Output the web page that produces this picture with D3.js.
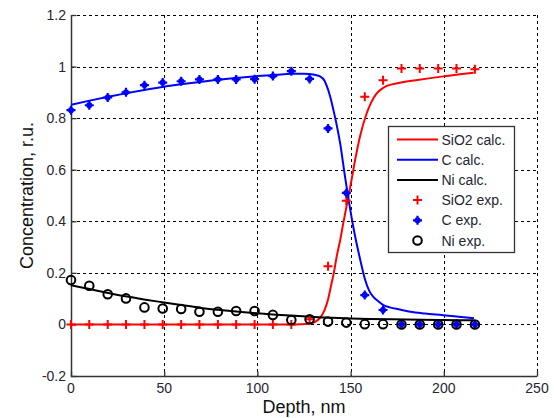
<!DOCTYPE html>
<html>
<head>
<meta charset="utf-8">
<script src="https://cdn.jsdelivr.net/npm/d3@7"></script>
<style>
  html, body { margin: 0; padding: 0; background: #fff; }
  svg { display: block; font-family: "Liberation Sans", Arial, sans-serif; }
</style>
</head>
<body>
<svg id="chart" width="554" height="418"></svg>
<script>
// Measured depths (nm)
const depthExp = [0, 9.8, 19.7, 29.5, 39.4, 49.2, 59.1, 68.9, 78.8, 88.6, 98.5, 108.3,
                  118.2, 128, 137.9, 147.7, 157.6, 167.4, 177.3, 187.1, 197, 206.8, 216.7];
// Experimental concentrations
const sio2Exp = [0, 0, 0, 0, 0, 0, 0, 0, 0, 0, 0, 0, 0, 0.02, 0.226, 0.48, 0.883, 0.947,
                 0.993, 0.993, 0.993, 0.993, 0.99];
const cExp = [0.831, 0.850, 0.880, 0.900, 0.928, 0.938, 0.943, 0.950, 0.950, 0.950, 0.951,
              0.963, 0.982, 0.952, 0.760, 0.510, 0.114, 0.056, 0, 0, 0, 0, 0];
const niExp = [0.172, 0.150, 0.117, 0.101, 0.066, 0.062, 0.060, 0.049, 0.049, 0.052, 0.052,
               0.037, 0.017, 0.020, 0.011, 0.007, 0.001, 0.001, 0, 0, 0, 0, 0];

// Calculated profiles
const sio2CalcDepth = [0, 120, 128, 131, 133.6, 136, 138, 139.5, 141, 142.5, 144.5, 146, 148.8,
                       150.5, 152.4, 155, 158.6, 161, 164, 167, 169.4, 176.5, 185, 199.7, 216];
const sio2Calc = [0, 0, 0.003, 0.01, 0.025, 0.055, 0.1, 0.15, 0.2, 0.262, 0.33, 0.39, 0.495,
                  0.56, 0.637, 0.728, 0.818, 0.86, 0.896, 0.915, 0.925, 0.937, 0.947, 0.962, 0.976];

const cCalcDepth = [0, 10, 20, 30, 40, 50, 60, 70, 80, 90, 100, 110, 118, 125, 130, 133.6, 136,
                    137.2, 139, 140.8, 142.5, 144.4, 147, 148.8, 151.4, 155, 157.7, 160, 162.2,
                    164, 167.6, 171.1, 176.5, 182, 190, 199.7, 208, 216.2];
const cCalc = [0.852, 0.868, 0.883, 0.897, 0.910, 0.922, 0.932, 0.941, 0.950, 0.957, 0.963,
               0.968, 0.972, 0.972, 0.969, 0.962, 0.945, 0.925, 0.885, 0.831, 0.775, 0.702,
               0.573, 0.49, 0.38, 0.256, 0.175, 0.13, 0.107, 0.095, 0.075, 0.066, 0.058, 0.049,
               0.042, 0.036, 0.030, 0.024];

const niCalcDepth = [0, 10, 20, 30, 40, 50, 60, 70, 80, 90, 100, 110, 120, 130, 140, 150, 160,
                     180, 200, 216];
const niCalc = [0.152, 0.137, 0.122, 0.108, 0.096, 0.085, 0.074, 0.064, 0.056, 0.049, 0.043,
                0.038, 0.034, 0.029, 0.026, 0.023, 0.021, 0.019, 0.017, 0.016];

const xTicks = [0, 50, 100, 150, 200, 250];
const yTicks = [-0.2, 0, 0.2, 0.4, 0.6, 0.8, 1, 1.2];

const legendItems = [
  { label: "SiO2 calc.", kind: "line", color: "#ff0000" },
  { label: "C calc.", kind: "line", color: "#0000ff" },
  { label: "Ni calc.", kind: "line", color: "#000000" },
  { label: "SiO2 exp.", kind: "plus", color: "#ff0000" },
  { label: "C exp.", kind: "star", color: "#0000ff" },
  { label: "Ni exp.", kind: "circle", color: "#000000" }
];

const svg = d3.select("#chart");
const plotLeft = 71, plotRight = 537, plotTop = 15, plotBottom = 376;

const x = d3.scaleLinear().domain([0, 250]).range([plotLeft, plotRight]);
const y = d3.scaleLinear().domain([-0.2, 1.2]).range([plotBottom, plotTop]);

// Dotted grid
const grid = svg.append("g").attr("stroke", "#000").attr("stroke-width", 1)
  .attr("stroke-dasharray", "3,3").attr("shape-rendering", "crispEdges");
grid.selectAll("line.gx").data(xTicks.filter(d => d > 0)).join("line")
  .attr("class", "gx")
  .attr("x1", d => Math.round(x(d)) + 0.5).attr("x2", d => Math.round(x(d)) + 0.5)
  .attr("y1", plotTop).attr("y2", plotBottom);
grid.selectAll("line.gy").data(yTicks.filter(d => d > -0.2)).join("line")
  .attr("class", "gy")
  .attr("x1", plotLeft).attr("x2", plotRight)
  .attr("y1", d => Math.round(y(d)) + 0.5).attr("y2", d => Math.round(y(d)) + 0.5);

// Axes (ticks pointing inward)
const fmt = d => (d === 0 ? "0" : String(+d.toFixed(1)));
const xAxis = svg.append("g").attr("transform", `translate(0,${Math.round(y(-0.2)) + 0.5})`)
  .call(d3.axisTop(x).tickValues(xTicks).tickSize(5).tickFormat(""));
const yAxis = svg.append("g").attr("transform", `translate(${Math.round(x(0)) + 0.5},0)`)
  .call(d3.axisRight(y).tickValues(yTicks).tickSize(5).tickFormat(""));
[xAxis, yAxis].forEach(g => {
  g.selectAll("line").attr("stroke", "#333").attr("stroke-width", 1.3);
  g.select(".domain").remove();
});
svg.append("path")
  .attr("d", `M${plotLeft + 0.5},${plotTop}V${plotBottom + 0.5}H${plotRight}`)
  .attr("fill", "none").attr("stroke", "#333").attr("stroke-width", 1.5);

// Tick labels
svg.append("g").selectAll("text").data(xTicks).join("text")
  .attr("x", d => x(d)).attr("y", 393)
  .attr("text-anchor", "middle").attr("font-size", 14).attr("fill", "#262633")
  .text(fmt);
svg.append("g").selectAll("text").data(yTicks).join("text")
  .attr("x", 66).attr("y", d => y(d) + 5)
  .attr("text-anchor", "end").attr("font-size", 14).attr("fill", "#262633")
  .text(fmt);

// Axis titles
svg.append("text").attr("x", (plotLeft + plotRight) / 2).attr("y", 413)
  .attr("text-anchor", "middle").attr("font-size", 18).attr("fill", "#111")
  .text("Depth, nm");
svg.append("text")
  .attr("transform", `translate(33,${(plotTop + plotBottom) / 2}) rotate(-90)`)
  .attr("text-anchor", "middle").attr("font-size", 18).attr("fill", "#111")
  .text("Concentration, r.u.");

// Calculated curves
const line = d3.line().x(d => x(d[0])).y(d => y(d[1])).curve(d3.curveMonotoneX);
const zip = (a, b) => a.map((v, i) => [v, b[i]]);
const plot = svg.append("g");
plot.append("path").datum(zip(sio2CalcDepth, sio2Calc)).attr("d", line)
  .attr("fill", "none").attr("stroke", "#ff0000").attr("stroke-width", 2);
plot.append("path").datum(zip(cCalcDepth, cCalc)).attr("d", line)
  .attr("fill", "none").attr("stroke", "#0000ff").attr("stroke-width", 2);
plot.append("path").datum(zip(niCalcDepth, niCalc)).attr("d", line)
  .attr("fill", "none").attr("stroke", "#000000").attr("stroke-width", 2);

// Marker shapes
const plusPath = s => `M${-s},0H${s}M0,${-s}V${s}`;
const starPath = (s, t) => `M${-s},0H${s}M0,${-s}V${s}M${-t},${-t}L${t},${t}M${-t},${t}L${t},${-t}`;

function drawPlus(g, cx, cy, color) {
  g.append("path").attr("transform", `translate(${cx},${cy})`).attr("d", plusPath(4.5))
    .attr("stroke", color).attr("stroke-width", 2).attr("fill", "none");
}
function drawStar(g, cx, cy, color) {
  g.append("path").attr("transform", `translate(${cx},${cy})`).attr("d", starPath(4.5, 2.2))
    .attr("stroke", color).attr("stroke-width", 2.2).attr("fill", "none");
}
function drawCircle(g, cx, cy, color) {
  g.append("circle").attr("cx", cx).attr("cy", cy).attr("r", 4.3)
    .attr("stroke", color).attr("stroke-width", 2).attr("fill", "none");
}

// Experimental points
const pts = svg.append("g");
depthExp.forEach((d, i) => drawPlus(pts, x(d), y(sio2Exp[i]), "#ff0000"));
depthExp.forEach((d, i) => drawStar(pts, x(d), y(cExp[i]), "#0000ff"));
depthExp.forEach((d, i) => drawCircle(pts, x(d), y(niExp[i]), "#000000"));

// Legend
const lg = svg.append("g");
lg.append("rect").attr("x", 388.5).attr("y", 126.5).attr("width", 126).attr("height", 126)
  .attr("fill", "#fff").attr("stroke", "#333").attr("stroke-width", 1.3);
legendItems.forEach((it, i) => {
  const cy = 139.5 + i * 20.2;
  if (it.kind === "line") {
    lg.append("line").attr("x1", 397).attr("x2", 438).attr("y1", cy).attr("y2", cy)
      .attr("stroke", it.color).attr("stroke-width", 2);
  } else if (it.kind === "plus") {
    drawPlus(lg, 417.5, cy, it.color);
  } else if (it.kind === "star") {
    drawStar(lg, 417.5, cy, it.color);
  } else {
    drawCircle(lg, 417.5, cy, it.color);
  }
  lg.append("text").attr("x", 441.5).attr("y", cy + 5).attr("font-size", 14)
    .attr("fill", "#262633").text(it.label);
});
</script>
</body>
</html>
